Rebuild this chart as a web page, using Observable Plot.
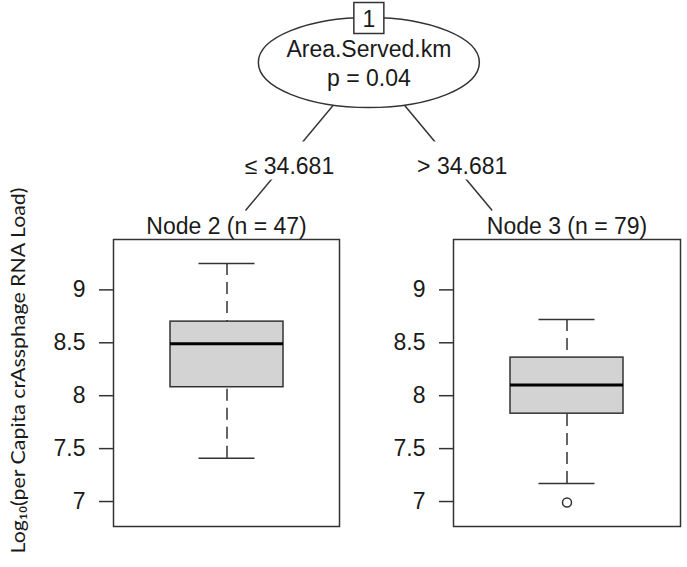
<!DOCTYPE html>
<html>
<head>
<meta charset="utf-8">
<script src="https://cdn.jsdelivr.net/npm/d3@7"></script>
<script src="https://cdn.jsdelivr.net/npm/@observablehq/plot@0.6"></script>
<style>
  html, body { margin: 0; padding: 0; background: #fff; }
  #chart { position: relative; width: 687px; height: 567px; background: #fff; overflow: hidden; }
  #chart > svg { position: absolute; }
</style>
</head>
<body>
<div id="chart"></div>
<script>
// ---- data ----
const nodeId = "1";
const splitVariable = "Area.Served.km";
const splitP = "p = 0.04";
const edgeLabels = ["≤ 34.681", "> 34.681"];
const nodeTitles = ["Node 2 (n = 47)", "Node 3 (n = 79)"];
const whiskerHigh = [9.25, 8.72];
const upperQuartile = [8.70, 8.36];
const medians = [8.49, 8.10];
const lowerQuartile = [8.08, 7.83];
const whiskerLow = [7.41, 7.17];
const outliers = [[], [6.99]];
const yTicks = [7, 7.5, 8, 8.5, 9];
const yTitle = "Log₁₀(per Capita crAssphage RNA Load)";

// ---- shared y scale (data range extended by 10% each side) ----
const allVals = [...whiskerHigh, ...whiskerLow, ...outliers.flat()];
const [lo, hi] = d3.extent(allVals);
const pad = (hi - lo) * 0.1;
const yDomain = [lo - pad, hi + pad];

const INK = "#333";
const FONT = "'Liberation Sans', Arial, Helvetica, sans-serif";
const chart = document.getElementById("chart");

function rectSymbol(w, h) {
  return { draw(ctx) { ctx.rect(-w / 2, -h / 2, w, h); } };
}
function ellipseSymbol(rx, ry) {
  const k = 0.5522847;
  return {
    draw(ctx) {
      ctx.moveTo(rx, 0);
      ctx.bezierCurveTo(rx, ry * k, rx * k, ry, 0, ry);
      ctx.bezierCurveTo(-rx * k, ry, -rx, ry * k, -rx, 0);
      ctx.bezierCurveTo(-rx, -ry * k, -rx * k, -ry, 0, -ry);
      ctx.bezierCurveTo(rx * k, -ry, rx, -ry * k, rx, 0);
      ctx.closePath();
    }
  };
}

function panel(i, left, marginLeft, withTitle) {
  const row = [{
    node: nodeTitles[i], uw: whiskerHigh[i], q3: upperQuartile[i],
    med: medians[i], q1: lowerQuartile[i], lw: whiskerLow[i]
  }];
  const outRows = outliers[i].map(v => ({node: nodeTitles[i], value: v}));
  const marks = [
    Plot.ruleX(row, {x: "node", y1: "uw", y2: "q3", stroke: INK, strokeWidth: 1.5, strokeDasharray: "12,7"}),
    Plot.ruleX(row, {x: "node", y1: "lw", y2: "q1", stroke: INK, strokeWidth: 1.5, strokeDasharray: "12,7"}),
    Plot.tickY(row, {x: "node", y: "uw", stroke: INK, strokeWidth: 1.5, insetLeft: 28.5, insetRight: 28.5}),
    Plot.tickY(row, {x: "node", y: "lw", stroke: INK, strokeWidth: 1.5, insetLeft: 28.5, insetRight: 28.5}),
    Plot.barY(row, {x: "node", y1: "q1", y2: "q3", fill: "#d3d3d3", stroke: INK, strokeWidth: 1.5}),
    Plot.tickY(row, {x: "node", y: "med", stroke: "#000", strokeWidth: 3}),
    Plot.dot(outRows, {x: "node", y: "value", r: 4.5, stroke: INK, strokeWidth: 1.5, fill: "none"}),
    Plot.frame({stroke: INK, strokeWidth: 1.5}),
    Plot.axisY({ticks: yTicks, tickFormat: d => String(d), tickSize: 14, tickPadding: 14,
      fontSize: 23, stroke: INK, strokeWidth: 1.5, label: null}),
    Plot.text([nodeTitles[i]], {frameAnchor: "top", lineAnchor: "bottom", dy: -5.5, text: d => d, fontSize: 23, fill: "#1a1a1a"})
  ];
  if (withTitle) {
    // starts at the bottom (y ≈ 553 on the page) and runs upward
    marks.push(Plot.text([yTitle], {frameAnchor: "left", rotate: -90, lineAnchor: "middle", textAnchor: "start",
      dx: -95, dy: 170.5, text: d => d, fontSize: 20, fontFamily: "Lato, 'Open Sans', sans-serif", fill: "#1a1a1a"}));
  }
  const frameW = i === 0 ? 226 : 227;
  const svg = Plot.plot({
    width: marginLeft + frameW + 5,
    height: 387,
    marginTop: 59, marginBottom: 41, marginLeft, marginRight: 5,
    style: {background: "transparent", overflow: "visible", fontFamily: FONT, fontSize: "23px", color: "#1a1a1a"},
    x: {type: "band", domain: [nodeTitles[i]], padding: 1 / 3, axis: null},
    y: {domain: yDomain, axis: null},
    marks
  });
  svg.style.left = left + "px";
  svg.style.top = "180px";
  chart.appendChild(svg);
  if (withTitle) {
    d3.select(svg).selectAll("text").filter(function () { return this.textContent === yTitle; })
      .attr("textLength", 366).attr("lengthAdjust", "spacingAndGlyphs");
  }
}

panel(0, 0, 113, true);
panel(1, 344, 109, false);

// ---- tree header: root node with two edges to the terminal nodes ----
const leafX = edgeLabels.map((_, j) => j / (edgeLabels.length - 1));
const root = {x: d3.mean(leafX), depth: 0};
const labelT = 0.70;
const edges = edgeLabels.map((label, j) => ({
  x1: root.x, y1: root.depth, x2: leafX[j], y2: 1, label,
  lx: root.x + (leafX[j] - root.x) * labelT, ly: labelT
}));

const tree = Plot.plot({
  width: 687, height: 215, margin: 0,
  style: {background: "transparent", overflow: "visible", fontFamily: FONT, fontSize: "23px", color: "#1a1a1a"},
  x: {domain: [0, 1], range: [245, 491.7], axis: null},
  y: {domain: [0, 1], range: [62, 210], axis: null},
  marks: [
    Plot.link(edges, {x1: "x1", y1: "y1", x2: "x2", y2: "y2", stroke: INK, strokeWidth: 1.5}),
    Plot.dot(edges, {x: "lx", y: "ly", symbol: rectSymbol(98, 38), fill: "white", stroke: "none", dx: 7, dy: -5.5}),
    Plot.text(edges, {x: "lx", y: "ly", text: "label", dx: 7, dy: 1, lineAnchor: "middle", fontSize: 23, fill: "#1a1a1a"}),
    Plot.dot([root], {x: "x", y: "depth", symbol: ellipseSymbol(110.5, 45), fill: "white", stroke: INK, strokeWidth: 1.5}),
    Plot.text([root], {x: "x", y: "depth", text: () => splitVariable, dy: -13, lineAnchor: "middle", fontSize: 23, fill: "#1a1a1a"}),
    Plot.text([root], {x: "x", y: "depth", text: () => splitP, dy: 16.6, lineAnchor: "middle", fontSize: 23, fill: "#1a1a1a"}),
    Plot.dot([root], {x: "x", y: "depth", symbol: rectSymbol(30, 31), dy: -44.5, fill: "white", stroke: INK, strokeWidth: 1.5}),
    Plot.text([root], {x: "x", y: "depth", text: () => nodeId, dy: -43, lineAnchor: "middle", fontSize: 23, fill: "#1a1a1a"})
  ]
});
tree.style.left = "0px";
tree.style.top = "0px";
chart.appendChild(tree);
</script>
</body>
</html>
